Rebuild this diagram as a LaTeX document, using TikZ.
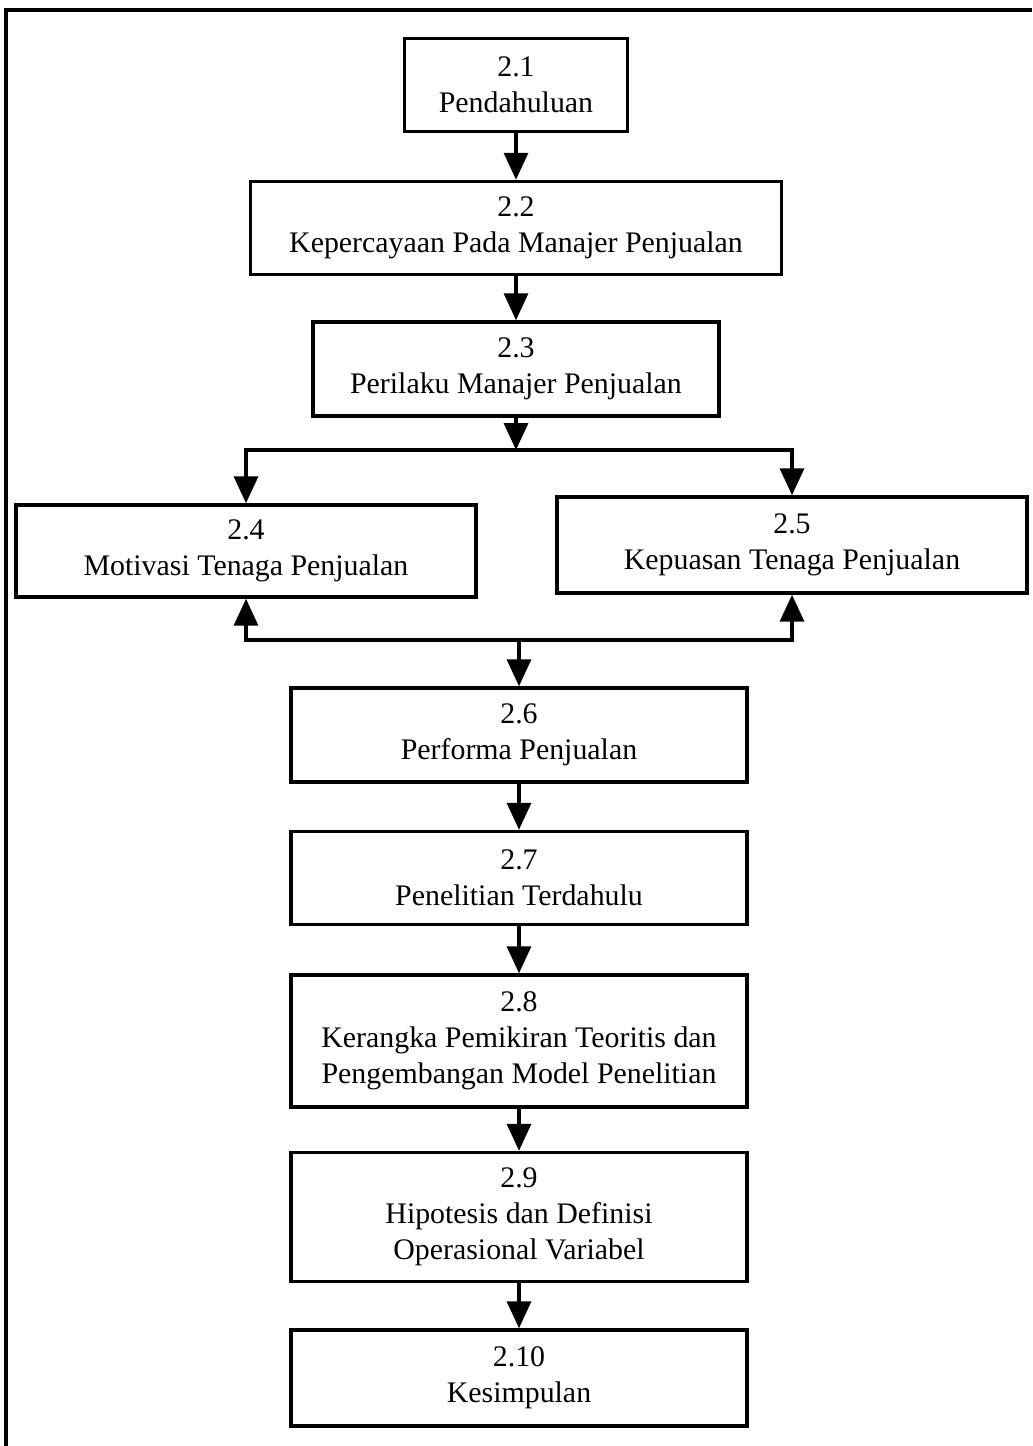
\documentclass[tikz,border=0pt]{standalone}
\usepackage{fontspec}
\setmainfont{Liberation Serif}
\usetikzlibrary{arrows.meta,positioning}

\begin{document}
\begin{tikzpicture}[x=0.02cm, y=-0.02cm,
  font=\fontsize{17}{20.5}\selectfont,
  secbox/.style={draw, line width=2pt, align=center, inner sep=0pt},
  flowarr/.style={line width=2pt, -{Triangle[width=0.48cm,length=0.54cm]}}]
  % Scan size in pixels (1 px = 0.02cm, y runs down)
  \useasboundingbox (0,0) rectangle (1032,1446);

  % Frame (only top and left edge are on the page)
  \draw[line width=2pt] (6,1446) -- (6,10) -- (1032,10);

  % Sections, top part
  \node[secbox, minimum width=4.46cm, minimum height=1.86cm] (s21) at (516,85) {2.1\\Pendahuluan};
  \node[secbox, minimum width=10.62cm, minimum height=1.86cm] (s22) at (516,228) {2.2\\Kepercayaan Pada Manajer Penjualan};
  \node[secbox, minimum width=8.12cm, minimum height=1.88cm] (s23) at (516,369) {2.3\\Perilaku Manajer Penjualan};

  % The two branches
  \node[secbox, minimum width=9.2cm, minimum height=1.84cm] (s24) at (246,551) {2.4\\Motivasi Tenaga Penjualan};
  \node[secbox, minimum width=9.4cm, minimum height=1.92cm] (s25) at (792,545) {2.5\\Kepuasan Tenaga Penjualan};

  % Sections, bottom part
  \node[secbox, minimum width=9.12cm, minimum height=1.88cm] (s26) at (519,735) {2.6\\Performa Penjualan};
  \node[secbox, minimum width=9.12cm, minimum height=1.86cm] (s27) at (519,878) {2.7\\Penelitian Terdahulu};
  \node[secbox, minimum width=9.12cm, minimum height=2.64cm] (s28) at (519,1041) {2.8\\Kerangka Pemikiran Teoritis dan\\Pengembangan Model Penelitian};
  \node[secbox, minimum width=9.12cm, minimum height=2.58cm] (s29) at (519,1217) {2.9\\Hipotesis dan Definisi\\Operasional Variabel};
  \node[secbox, minimum width=9.12cm, minimum height=1.92cm] (s210) at (519,1378) {2.10\\Kesimpulan};

  % Junction points
  \coordinate (j1) at (516,450);
  \coordinate (j2) at (519,640);

  % Arrows
  \draw[flowarr] (s21) -- (s22);
  \draw[flowarr] (s22) -- (s23);
  \draw[flowarr] (s23) -- (j1);
  \draw[flowarr] (j1) -| (s24);
  \draw[flowarr] (j1) -| (s25);
  \draw[flowarr] (j2) -| (s24);
  \draw[flowarr] (j2) -| (s25);
  \draw[flowarr] (j2) -- (s26);
  \draw[flowarr] (s26) -- (s27);
  \draw[flowarr] (s27) -- (s28);
  \draw[flowarr] (s28) -- (s29);
  \draw[flowarr] (s29) -- (s210);

\end{tikzpicture}
\end{document}
